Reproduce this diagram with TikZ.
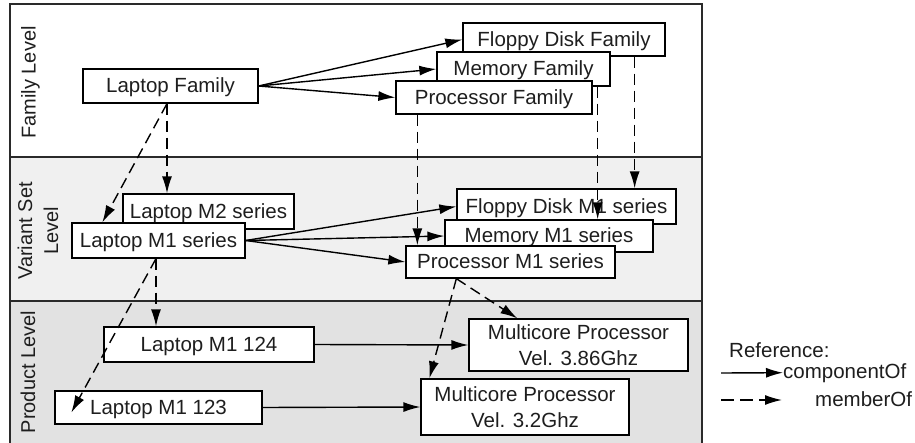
\documentclass[tikz,border=0pt]{standalone}
\usepackage{fontspec}
\setmainfont{Liberation Sans}
\usetikzlibrary{arrows.meta,calc}

\definecolor{ink}{HTML}{1E1E1E}
\definecolor{frameline}{HTML}{2A2A2A}
\definecolor{variantfill}{HTML}{F0F0F0}
\definecolor{productfill}{HTML}{E2E2E2}

\tikzset{
  box/.style={draw=black, line width=1.3pt, fill=white, inner sep=0pt,
    font=\fontsize{20.5}{24}\selectfont, text=ink,
    text height=18pt, text depth=4pt},
  boxtwo/.style={draw=black, line width=1.3pt, fill=white, inner sep=0pt,
    font=\fontsize{20.5}{26}\selectfont, text=ink, align=center},
  levellabel/.style={font=\fontsize{20}{26}\selectfont, text=ink, rotate=90, inner sep=0pt},
  legendtext/.style={font=\fontsize{20.5}{24}\selectfont, text=ink, inner sep=0pt},
  comp/.style={draw=black, line width=1.4pt, -{Latex[length=17pt,width=10pt]}},
  memb/.style={comp, dash pattern=on 11pt off 6pt},
  band/.style={draw=frameline, line width=1.6pt}
}

\begin{document}
\begin{tikzpicture}[x=1pt, y=-1pt]
  \useasboundingbox (0,0) rectangle (915,443);
  \fill[white] (0,0) rectangle (915,443);

  % level bands
  \fill[variantfill] (10,157) rectangle (702,301);
  \fill[productfill] (10,301) rectangle (702,443);
  \draw[band] (10,443) -- (10,4) -- (702,4) -- (702,443);
  \draw[band] (10,157) -- (702,157);
  \draw[band] (10,301) -- (702,301);

  % level labels
  \node[levellabel, anchor=base] (famlvl) at (35.5,82.5) {Family Level};
  \node[levellabel, align=center] (varlvl) at (38,231) {Variant Set\\Level};
  \node[levellabel, anchor=base] (prodlvl) at (35,372) {Product Level};

  % family level
  \node[box, minimum width=175pt, minimum height=34pt] (lf) at (170.5,86) {Laptop Family};
  \node[box, minimum width=202pt, minimum height=33pt] (ff) at (564,39.5) {Floppy Disk Family};
  \node[box, minimum width=173pt, minimum height=34pt] (mf) at (523.5,69) {Memory Family};
  \node[box, minimum width=196pt, minimum height=33pt] (pf) at (494,97.5) {Processor Family};

  % variant set level
  \node[box, minimum width=171pt, minimum height=35pt] (l2) at (208.5,211.5) {Laptop M2 series};
  \node[box, minimum width=173pt, minimum height=35pt] (l1) at (158.5,240.5) {Laptop M1 series};
  \node[box, minimum width=219pt, minimum height=35pt] (fs) at (566.5,206.5) {Floppy Disk M1 series};
  \node[box, minimum width=208pt, minimum height=32pt] (ms) at (549,236) {Memory M1 series};
  \node[box, minimum width=209pt, minimum height=32pt] (ps) at (510.5,262) {Processor M1 series};

  % product level
  \node[box, minimum width=210pt, minimum height=35pt] (p124) at (209,344.5) {Laptop M1 124};
  \node[box, minimum width=207pt, minimum height=33pt] (p123) at (158.5,407.5) {Laptop M1 123};
  \node[boxtwo, minimum width=219pt, minimum height=52pt] (mc386) at (578.5,345) {Multicore Processor\\Vel. 3.86Ghz};
  \node[boxtwo, minimum width=208pt, minimum height=56pt] (mc32) at (525,407) {Multicore Processor\\Vel. 3.2Ghz};

  % componentOf links
  \draw[comp] (lf.east) -- (ff.west);
  \draw[comp] (lf.east) -- (mf.west);
  \draw[comp] (lf.east) -- (pf.west);
  \draw[comp] (l1.east) -- (fs.west);
  \draw[comp] (l1.east) -- (ms.west);
  \draw[comp] (l1.east) -- (ps.west);
  \draw[comp] (p124.east) -- (mc386.west);
  \draw[comp] (p123.east) -- (mc32.west);

  % memberOf links
  \coordinate (lfo) at ($(lf.south)+(-3.5,0)$);
  \draw[memb] (lfo) -- (lfo |- l2.north);
  \draw[memb] (lfo) -- ($(l1.north west)+(31,0)$);
  \coordinate (l1o) at ($(l1.south)+(-2.5,0)$);
  \draw[memb] (l1o) -- (l1o |- p124.north);
  \draw[memb] (l1o) -- ($(p123.west)+(17,5)$);
  \coordinate (pfo) at ($(pf.south west)+(22,0)$);
  \draw[memb] (pfo) -- (pfo |- ps.north);
  \coordinate (mfo) at ($(mf.south east)+(-13,0)$);
  \draw[memb] (mfo) -- (mfo |- ms.north);
  \coordinate (ffo) at ($(ff.south east)+(-31,0)$);
  \draw[memb] (ffo) -- (ffo |- fs.north);
  \coordinate (pso) at ($(ps.south west)+(51,0)$);
  \draw[memb] (pso) -- ($(mc386.north west)+(49,0)$);
  \draw[memb] (pso) -- ($(mc32.north west)+(9,0)$);

  % legend
  \node[legendtext, anchor=base west] (reftitle) at (729,357) {Reference:};
  \node[legendtext, anchor=base west] (comptext) at (783,378) {componentOf};
  \node[legendtext, anchor=base west] (membtext) at (815,406) {memberOf};
  \coordinate (compstart) at (721,373);
  \coordinate (membstart) at (721,400);
  \coordinate (membend) at (782,400);
  \draw[comp] (compstart) -- (comptext.west);
  \draw[comp, dash pattern=on 13pt off 6pt] (membstart) -- (membend);
\end{tikzpicture}
\end{document}
